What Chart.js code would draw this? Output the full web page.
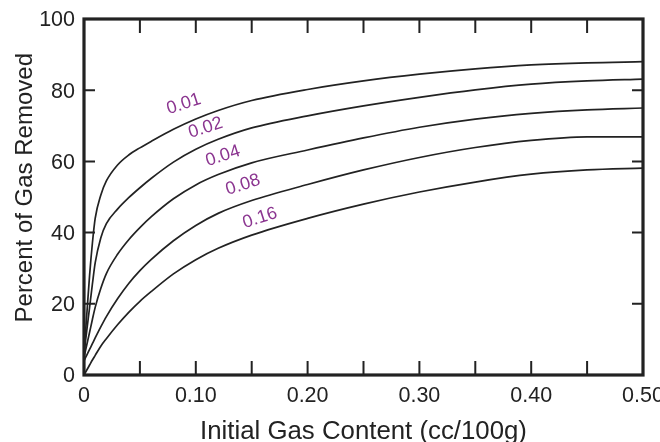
<!DOCTYPE html>
<html><head><meta charset="utf-8">
<script src="https://cdn.jsdelivr.net/npm/chart.js@4/dist/chart.umd.min.js"></script>
<style>html,body{margin:0;padding:0;background:#fff;}#wrap{width:660px;height:442px;}</style>
</head><body><div id="wrap"><canvas id="c" width="660" height="442"></canvas></div>
<script>
// ---- data ----
const xValues = [0, 0.0025, 0.005, 0.0075, 0.01, 0.015, 0.02, 0.03, 0.04, 0.05, 0.06, 0.08, 0.10, 0.12, 0.15, 0.20, 0.25, 0.30, 0.35, 0.40, 0.45, 0.50];
const seriesNames = ['0.01', '0.02', '0.04', '0.08', '0.16'];
const s001 = [6, 17, 28, 37, 44, 50.5, 54.5, 59, 61.8, 63.8, 65.6, 69, 71.9, 74.3, 77.1, 80.2, 82.6, 84.5, 86, 87.1, 87.7, 88];
const s002 = [6, 12.5, 19, 25.5, 31.5, 38.5, 42.5, 46.6, 49.8, 52.6, 55.2, 59.8, 63.4, 66.2, 69.4, 72.8, 75.6, 78, 80.1, 81.7, 82.6, 83.1];
const s004 = [5, 8.5, 12, 15.6, 19, 24.3, 28.5, 33.9, 38, 41.4, 44.4, 49.5, 53.4, 56.3, 59.6, 63.2, 66.6, 69.6, 71.9, 73.5, 74.5, 75];
const s008 = [4, 5.6, 7.2, 8.8, 10.4, 13.5, 16.4, 21.4, 25.7, 29.3, 32.4, 37.7, 42, 45.4, 49, 53.5, 57.6, 61.1, 63.9, 65.9, 66.9, 66.9];
const s016 = [0, 1.4, 2.8, 4.2, 5.5, 8.1, 10.2, 14.1, 17.6, 20.7, 23.4, 28.4, 32.4, 35.6, 39.3, 44, 48, 51.4, 54.2, 56.4, 57.6, 58.1];
const seriesValues = [s001, s002, s004, s008, s016];
// curve label anchors (data coordinates)
const labelX = [0.0894, 0.1087, 0.1243, 0.1422, 0.1574];
const labelY = [76.1, 69.4, 61.5, 53.4, 44.1];
// ticks
const xTickValues = [0, 0.1, 0.2, 0.3, 0.4, 0.5];
const xTickLabels = ['0', '0.10', '0.20', '0.30', '0.40', '0.50'];
const xMinorTicks = [0.05, 0.1, 0.15, 0.2, 0.25, 0.3, 0.35, 0.4, 0.45];
const yTickValues = [0, 20, 40, 60, 80, 100];
const yInnerTicks = [20, 40, 60, 80];
const xTitle = 'Initial Gas Content (cc/100g)';
const yTitle = 'Percent of Gas Removed';
const yTitleCenter = 52.6; // data value at which the y title is centred

const FONT = "'Liberation Sans', Arial, Helvetica, sans-serif";
const INK = '#222222';
const LABEL_COLOR = '#8b3590';

const datasets = seriesValues.map((vals, i) => ({
  label: seriesNames[i],
  data: xValues.map((x, j) => ({x: x, y: vals[j]})),
  borderColor: INK,
  borderWidth: 1.7,
  pointRadius: 0,
  fill: false,
  cubicInterpolationMode: 'monotone'
}));

const framePlugin = {
  id: 'frame',
  afterDatasetsDraw(chart) {
    const {ctx, chartArea: a, scales: {x, y}} = chart;
    ctx.save();
    ctx.strokeStyle = INK;
    ctx.lineWidth = 2;
    ctx.beginPath();
    xMinorTicks.forEach(v => {
      const px = x.getPixelForValue(v);
      ctx.moveTo(px, a.bottom); ctx.lineTo(px, a.bottom - 14);
      ctx.moveTo(px, a.top); ctx.lineTo(px, a.top + 14);
    });
    yInnerTicks.forEach(v => {
      const py = y.getPixelForValue(v);
      ctx.moveTo(a.left, py); ctx.lineTo(a.left + 11, py);
      ctx.moveTo(a.right, py); ctx.lineTo(a.right - 11, py);
    });
    ctx.stroke();
    ctx.lineWidth = 3.2;
    ctx.strokeRect(a.left, a.top, a.right - a.left, a.bottom - a.top);
    // curve labels
    ctx.fillStyle = LABEL_COLOR;
    ctx.font = '18px ' + FONT;
    ctx.textAlign = 'center';
    ctx.textBaseline = 'middle';
    seriesNames.forEach((n, i) => {
      const px = x.getPixelForValue(labelX[i]);
      const py = y.getPixelForValue(labelY[i]);
      ctx.save();
      ctx.translate(px, py);
      ctx.rotate(-18 * Math.PI / 180);
      ctx.fillText(n, 0, 0);
      ctx.restore();
    });
    // y axis title
    ctx.fillStyle = INK;
    ctx.font = '24px ' + FONT;
    ctx.textAlign = 'center';
    ctx.textBaseline = 'alphabetic';
    ctx.save();
    ctx.translate(31.5, y.getPixelForValue(yTitleCenter));
    ctx.rotate(-Math.PI / 2);
    ctx.fillText(yTitle, 0, 0);
    ctx.restore();
    ctx.restore();
  }
};

new Chart(document.getElementById('c'), {
  type: 'line',
  data: {datasets},
  options: {
    responsive: false,
    animation: false,
    devicePixelRatio: 1,
    layout: {padding: {left: 0, right: 17, top: 19, bottom: 0}},
    plugins: {legend: {display: false}, tooltip: {enabled: false}},
    scales: {
      x: {
        type: 'linear', min: 0, max: 0.5,
        afterBuildTicks: s => { s.ticks = xTickValues.map(v => ({value: v})); },
        afterFit: s => { s.height = 67; s.paddingLeft = 0; s.paddingRight = 0; },
        grid: {display: false, drawTicks: false},
        border: {display: false},
        ticks: {
          color: INK, padding: 8, maxRotation: 0, autoSkip: false,
          font: {size: 21.5, family: FONT},
          callback: v => xTickLabels[xTickValues.indexOf(v)]
        },
        title: {display: true, text: xTitle, color: INK, font: {size: 25.8, family: FONT}, padding: {top: 0, bottom: -5}}
      },
      y: {
        type: 'linear', min: 0, max: 100,
        afterBuildTicks: s => { s.ticks = yTickValues.map(v => ({value: v})); },
        afterFit: s => { s.width = 84; s.paddingTop = 0; s.paddingBottom = 0; },
        grid: {display: false, drawTicks: false},
        border: {display: false},
        ticks: {color: INK, padding: 9, labelOffset: 1.5, font: {size: 21.5, family: FONT}},
        title: {display: false}
      }
    }
  },
  plugins: [framePlugin]
});
</script></body></html>
